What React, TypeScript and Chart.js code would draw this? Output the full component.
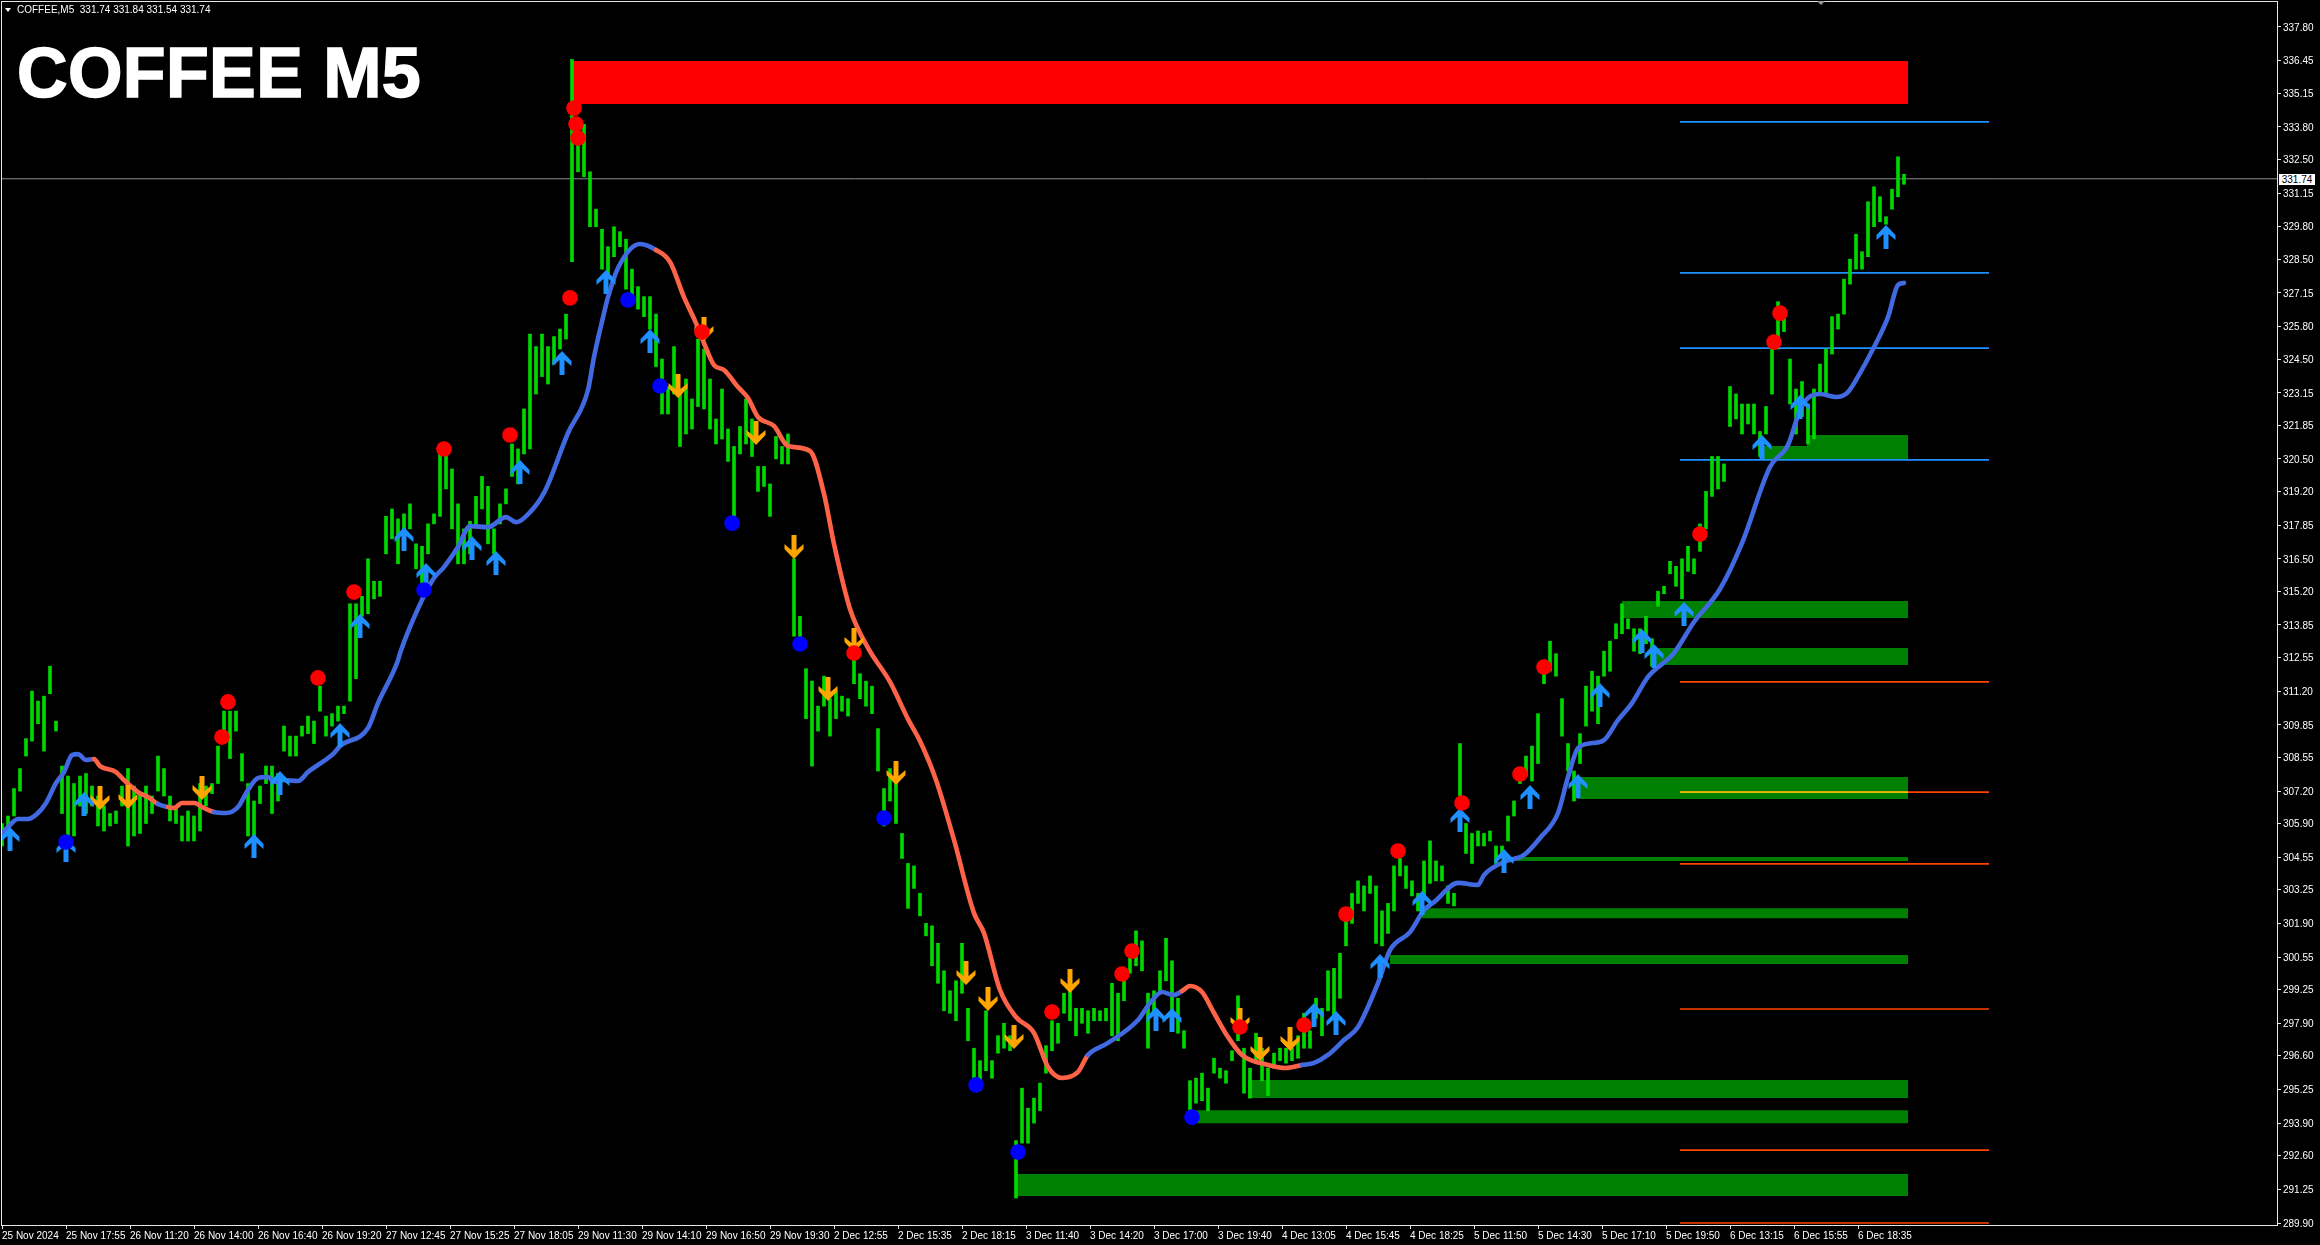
import React, { useEffect, useRef } from "react";
import { Chart, registerables } from "chart.js";

Chart.register(...registerables);

const priceTicks = [337.8, 336.45, 335.15, 333.8, 332.5, 331.15, 329.8, 328.5, 327.15, 325.8, 324.5, 323.15, 321.85, 320.5, 319.2, 317.85, 316.5, 315.2, 313.85, 312.55, 311.2, 309.85, 308.55, 307.2, 305.9, 304.55, 303.25, 301.9, 300.55, 299.25, 297.9, 296.6, 295.25, 293.9, 292.6, 291.25, 289.9];
const timeLabels = ["25 Nov 2024", "25 Nov 17:55", "26 Nov 11:20", "26 Nov 14:00", "26 Nov 16:40", "26 Nov 19:20", "27 Nov 12:45", "27 Nov 15:25", "27 Nov 18:05", "29 Nov 11:30", "29 Nov 14:10", "29 Nov 16:50", "29 Nov 19:30", "2 Dec 12:55", "2 Dec 15:35", "2 Dec 18:15", "3 Dec 11:40", "3 Dec 14:20", "3 Dec 17:00", "3 Dec 19:40", "4 Dec 13:05", "4 Dec 15:45", "4 Dec 18:25", "5 Dec 11:50", "5 Dec 14:30", "5 Dec 17:10", "5 Dec 19:50", "6 Dec 13:15", "6 Dec 15:55", "6 Dec 18:35"];
const labelEvery = 32;
const barEvery = 3;
const lastPrice = 331.72;
const totalBars = 1138;

const barHighs = [305.9, 306.2, 307.3, 308.1, 309.3, 311.2, 310.8, 311.0, 312.2, 310.0, 308.2, 307.8, 307.5, 307.8, 307.9, 307.4, 307.0, 306.6, 306.3, 306.4, 307.4, 308.1, 307.4, 307.1, 307.4, 307.0, 308.6, 308.1, 307.0, 306.6, 306.2, 306.4, 306.2, 307.5, 307.4, 307.5, 309.0, 310.4, 310.4, 310.4, 308.7, 307.5, 306.8, 307.4, 308.2, 308.2, 307.9, 309.8, 309.4, 309.4, 309.8, 310.2, 310.0, 311.4, 310.2, 310.3, 310.6, 310.6, 314.7,
  314.7, 315.0, 316.5, 315.6, 315.6, 318.2, 318.5, 318.1, 318.3, 318.7, 317.1, 317.0, 317.9, 318.3, 320.9, 320.7, 320.1, 318.7, 317.7, 318.0, 319.0, 319.8, 319.4, 317.7, 318.7, 319.3, 321.1, 320.9, 322.5, 325.5, 325.0, 325.5, 325.0, 325.4, 325.7, 326.3, 336.5, 333.4, 333.9, 332.0, 330.5, 329.7, 329.0, 329.8, 329.6, 329.3, 328.1, 327.4, 327.0, 327.0,
  326.3, 324.5, 323.4, 325.0, 323.3, 323.7, 322.9, 325.3, 324.9, 323.7, 322.1, 323.3, 321.7, 321.0, 321.8, 322.9, 322.1, 320.2, 320.2, 319.5, 321.4, 321.0, 321.5, 316.5, 314.2, 312.1, 311.6, 310.6, 311.8, 310.9, 311.2, 311.0, 310.9, 312.5, 311.9, 311.6, 311.4, 309.7, 307.3, 308.1, 307.6, 305.5,
  304.3, 304.2, 303.1, 301.9, 301.8, 301.1, 300.0, 299.2, 299.6, 301.1, 298.5, 296.9, 296.4, 298.4, 296.4, 297.4, 297.9, 297.4, 293.2, 295.3, 294.5, 294.9, 295.5, 297.0, 298.0, 297.9, 299.1, 299.7, 298.5, 298.5, 298.4, 298.5, 298.4, 298.5, 299.5, 299.1, 299.7, 300.5, 301.6, 301.2, 299.1, 299.2, 300.0, 301.3, 300.4, 298.9, 297.6,
  295.6, 295.7, 295.9, 295.3, 296.5, 296.1, 296.0, 296.8, 299.0, 296.9, 296.1, 297.5, 296.9, 296.1, 296.7, 296.9, 296.9, 296.9, 297.4, 298.3, 297.6, 298.9, 298.5, 300.0, 300.1, 300.7, 302.0, 303.1, 303.6, 303.4, 303.8, 303.4, 302.4, 302.7, 304.2, 304.5, 304.2, 303.6, 303.1, 304.4, 305.2, 304.4, 304.2, 303.4, 303.1,
  309.1, 305.9, 305.5, 305.6, 305.5, 305.6, 305.0, 305.0, 306.2, 306.8, 308.0, 308.6, 309.0, 310.3, 311.9, 313.2, 312.7, 310.9, 309.1, 308.0, 309.5, 311.4, 312.0, 311.8, 312.8, 313.2, 313.9, 314.7, 314.1, 313.7, 313.7, 314.2, 313.3, 315.2, 315.4, 316.4, 316.2, 316.5, 317.0, 316.5, 317.9, 319.2,
  320.6, 320.6, 320.3, 323.4, 323.1, 322.7, 322.7, 322.7, 321.6, 322.6, 324.9, 326.8, 326.3, 324.5, 323.3, 323.6, 322.7, 323.3, 324.3, 324.9, 326.2, 326.3, 327.7, 328.5, 329.5, 328.8, 330.8, 331.4, 331.0, 330.2, 331.3, 332.6, 331.9];

const barLows = [305.0, 305.6, 306.2, 307.2, 308.6, 309.2, 309.9, 308.8, 311.1, 309.6, 306.3, 305.4, 305.4, 306.6, 306.3, 306.6, 305.8, 305.6, 305.8, 305.9, 306.6, 305.0, 305.4, 305.5, 305.9, 306.3, 307.2, 307.0, 306.0, 305.9, 305.2, 305.2, 305.2, 305.6, 306.6, 307.1, 307.5, 309.5, 308.5, 309.6, 307.6, 305.4, 305.4, 306.7, 307.5, 306.3, 306.8, 308.8, 308.6, 308.6, 309.4, 309.5, 309.1, 310.4, 309.4, 309.8, 310.0, 310.3, 310.8,
  311.7, 314.2, 314.3, 314.9, 315.0, 316.7, 317.3, 316.3, 317.0, 317.7, 316.1, 315.5, 316.7, 317.9, 318.2, 319.3, 317.7, 316.3, 316.3, 316.7, 317.8, 318.5, 317.1, 316.7, 317.9, 318.7, 319.8, 319.5, 320.7, 320.9, 323.1, 323.8, 323.5, 324.3, 324.9, 325.3, 328.4, 332.0, 331.8, 329.8, 329.8, 328.1, 327.8, 328.6, 329.0, 327.3, 327.1, 326.5, 326.2, 325.7,
  324.2, 322.3, 322.3, 323.1, 321.0, 321.5, 321.7, 322.6, 322.5, 321.7, 321.1, 321.3, 320.4, 318.2, 320.7, 321.1, 320.6, 319.2, 319.4, 318.2, 320.5, 320.3, 320.3, 313.4, 313.2, 310.1, 308.2, 309.6, 310.6, 309.4, 310.1, 310.4, 310.2, 311.5, 310.9, 310.6, 310.3, 308.0, 305.8, 306.8, 305.9, 304.5,
  302.5, 303.3, 302.2, 301.4, 300.2, 299.5, 298.4, 298.3, 298.0, 299.1, 297.2, 295.6, 295.2, 296.0, 295.7, 296.7, 296.9, 296.8, 290.9, 293.1, 293.1, 293.9, 294.4, 295.9, 296.8, 297.1, 298.3, 298.0, 297.4, 297.9, 297.5, 298.0, 298.0, 298.0, 297.4, 297.2, 298.8, 299.9, 300.2, 300.0, 296.9, 298.3, 299.2, 299.6, 298.4, 297.5, 296.9,
  294.4, 294.7, 294.8, 294.4, 295.9, 295.7, 295.5, 296.4, 297.2, 295.1, 294.9, 296.4, 295.6, 295.0, 296.1, 296.4, 296.3, 296.4, 296.5, 296.9, 296.9, 298.1, 297.4, 298.4, 298.1, 298.9, 301.0, 301.9, 302.7, 302.4, 303.1, 301.1, 301.0, 301.5, 302.4, 303.8, 303.3, 303.0, 302.4, 303.0, 303.5, 303.6, 303.6, 302.7, 302.6,
  305.6, 304.7, 304.3, 305.0, 305.0, 305.2, 304.3, 304.7, 305.2, 306.2, 307.5, 307.8, 307.6, 308.3, 311.5, 312.0, 311.8, 309.4, 308.0, 306.8, 308.3, 309.8, 310.4, 309.9, 311.8, 312.0, 313.3, 313.5, 313.7, 312.8, 312.7, 313.1, 312.2, 314.6, 315.1, 315.9, 315.4, 314.9, 316.0, 315.9, 316.8, 317.7,
  319.0, 319.3, 319.6, 321.8, 322.1, 321.5, 321.9, 321.5, 320.6, 321.5, 323.1, 324.9, 325.6, 322.7, 321.5, 322.2, 321.1, 321.3, 323.1, 323.1, 324.7, 325.7, 326.3, 327.5, 328.1, 328.1, 328.6, 329.8, 330.0, 329.9, 330.5, 331.0, 331.5];

const maBars = [0, 3, 8, 13, 18, 22, 27, 31, 35, 38, 42, 46, 49, 57, 61, 68, 73, 78, 83, 86, 90, 96, 101, 106, 112, 118, 123, 128, 133, 136, 141, 148, 153, 166, 169, 183, 188, 198, 199, 210, 216, 221, 228, 234, 243, 252, 257, 261, 271, 283, 293, 296, 301, 303, 308, 319, 327, 334, 341, 347, 351, 356, 361, 368, 373, 378, 386, 393, 404, 411, 416, 424, 433, 444, 453, 459, 467, 476, 486, 491, 499, 507, 516, 523, 530, 538, 543, 553, 568, 574, 580, 586, 590, 594, 600, 606, 613, 620, 633, 642, 650, 656, 663, 671, 678, 688, 694, 704, 711, 716, 728, 738, 741, 751, 761, 769, 778, 783, 788, 795, 801, 808, 815, 823, 836, 846, 859, 870, 884, 893, 899, 903, 909, 917, 923, 929, 936, 943, 948, 951];
const maValues = [305.52, 305.76, 306.08, 306.08, 306.32, 306.72, 307.52, 307.96, 308.64, 308.68, 308.44, 308.48, 308.2, 307.96, 307.64, 307.16, 306.96, 306.68, 306.56, 306.52, 306.72, 306.72, 306.52, 306.36, 306.32, 306.56, 307.24, 307.72, 307.76, 307.56, 307.64, 307.6, 307.96, 308.72, 309.0, 309.72, 310.72, 312.44, 312.72, 314.85, 315.73, 316.17, 316.97, 317.81, 317.77, 318.17, 317.97, 318.13, 319.14, 321.54, 323.26, 324.58, 326.34, 326.98, 328.15, 329.11, 328.87, 328.39, 326.98, 325.94, 325.14, 324.26, 324.06, 323.38, 322.94, 322.18, 321.82, 321.02, 320.82, 319.1, 317.09, 314.49, 312.93, 311.57, 310.08, 309.2, 307.64, 305.24, 302.31, 301.51, 299.23, 298.15, 297.51, 296.15, 295.71, 295.95, 296.63, 297.11, 298.03, 298.71, 299.15, 299.03, 299.19, 299.39, 299.15, 298.31, 297.35, 296.63, 296.23, 296.11, 296.23, 296.31, 296.63, 297.23, 297.75, 299.51, 300.83, 301.55, 302.43, 302.75, 303.52, 303.44, 303.84, 304.36, 304.64, 305.32, 306.32, 307.76, 308.92, 309.12, 309.24, 310.04, 310.72, 311.77, 312.73, 313.97, 315.29, 317.13, 320.18, 321.06, 322.46, 322.94, 323.1, 322.98, 323.18, 323.94, 324.98, 326.18, 327.47, 327.55];
const maTrendFlips = [46, 78, 83, 106, 327, 543, 590, 650];

const upArrowBars = [4, 32, 41, 126, 139, 169, 179, 201, 212, 235, 247, 259, 280, 302, 324, 577, 585, 656, 667, 689, 710, 729, 751, 764, 788, 799, 820, 826, 841, 880, 899, 942];
const upArrowPrices = [305.28, 304.84, 306.68, 305.0, 307.52, 309.44, 313.81, 317.29, 315.85, 316.93, 316.33, 319.98, 324.34, 327.59, 325.22, 298.07, 298.03, 298.23, 297.91, 300.19, 302.72, 306.04, 304.4, 306.96, 307.4, 311.04, 313.21, 312.61, 314.29, 320.98, 322.58, 329.39];
const downArrowBars = [49, 63, 100, 338, 351, 377, 396, 413, 426, 447, 482, 493, 506, 534, 619, 629, 644];
const downArrowPrices = [306.92, 306.96, 307.32, 323.42, 325.7, 321.54, 316.97, 311.29, 313.25, 307.92, 299.91, 298.87, 297.35, 299.59, 298.03, 296.87, 297.27];
const redDotBars = [110, 113, 158, 176, 221, 254, 284, 286, 287, 288, 350, 426, 525, 560, 565, 619, 651, 672, 698, 730, 759, 771, 849, 886, 889];
const redDotPrices = [309.36, 310.77, 311.73, 315.17, 320.9, 321.46, 326.95, 334.55, 333.91, 333.35, 325.58, 312.73, 298.35, 299.87, 300.79, 297.75, 297.83, 302.27, 304.8, 306.72, 307.88, 312.17, 317.49, 325.18, 326.34];
const blueDotBars = [32, 211, 313, 329, 365, 399, 441, 487, 508, 595];
const blueDotPrices = [305.16, 315.25, 326.87, 323.42, 317.93, 313.09, 306.12, 295.43, 292.74, 294.14];

// zones: first bar, last bar, top price, bottom price
const demandZones = [
  [507.5, 953, 291.86, 290.98],
  [595.5, 953, 294.42, 293.9],
  [623, 953, 295.63, 294.91],
  [694, 953, 300.63, 300.27],
  [710, 953, 302.51, 302.11],
  [755.5, 953, 304.56, 304.4],
  [787.5, 953, 307.76, 306.88],
  [826.5, 953, 312.93, 312.25],
  [810, 953, 314.81, 314.13],
  [880.5, 953, 321.02, 320.5],
  [902.5, 953, 321.46, 320.5],
];
const supplyZones = [[285.5, 953, 336.44, 334.71]];

const levelStart = 839;
const levelEnd = 993.5;
const resistanceLevels = [334.0, 327.95, 324.94, 320.46];
const supportLevels = [311.57, 307.16, 304.28, 298.47, 292.82, 289.9];
const overlapLevel = 307.16;
const overlapEnd = 953;

function makeArrow(color: string, down: boolean) {
  const c = document.createElement("canvas");
  c.width = 20;
  c.height = 24;
  const g = c.getContext("2d")!;
  if (down) {
    g.translate(0, 24);
    g.scale(1, -1);
  }
  g.fillStyle = color;
  g.beginPath();
  const pts = [[10, 0], [19.5, 10], [19.5, 15], [12.5, 9], [12.5, 24], [7.5, 24], [7.5, 9], [0.5, 15], [0.5, 10]];
  pts.forEach(([x, y], i) => (i ? g.lineTo(x, y) : g.moveTo(x, y)));
  g.closePath();
  g.fill();
  return c;
}

const zip = (xs: number[], ys: number[]) => xs.map((x, i) => ({ x, y: ys[i] }));

function zoneDataset(z: number[], color: string) {
  const [a, b, top, bot] = z;
  return {
    type: "line" as const,
    data: [{ x: a, y: top }, { x: b, y: top }, { x: b, y: bot }, { x: a, y: bot }],
    fill: "shape",
    backgroundColor: color,
    borderWidth: 0,
    pointRadius: 0,
    tension: 0,
    order: 10,
  };
}

function levelDataset(y: number, color: string, a = levelStart, b = levelEnd, order = 8, width = 1.7) {
  return {
    type: "line" as const,
    data: [{ x: a, y }, { x: b, y }],
    borderColor: color,
    borderWidth: width,
    pointRadius: 0,
    tension: 0,
    order,
  };
}

function markerDataset(data: any[], style: any, radius: number, color: string, order: number) {
  return {
    type: "line" as const,
    data,
    showLine: false,
    pointStyle: style,
    pointRadius: radius,
    pointBackgroundColor: color,
    pointBorderWidth: 0,
    order,
  };
}

export default function App() {
  const ref = useRef<HTMLCanvasElement>(null);

  useEffect(() => {
    document.body.style.margin = "0";
    document.body.style.background = "#000";
    const font = { family: "'Liberation Sans', Arial, sans-serif", size: 10 };
    const frame = {
      id: "frame",
      afterDraw(chart: any) {
        const { left, top, right, bottom } = chart.chartArea;
        const g = chart.ctx;
        g.save();
        g.strokeStyle = "#e6e6e6";
        g.lineWidth = 1;
        g.strokeRect(left - 0.5, top - 0.5, right - left, bottom - top);
        g.restore();
      },
    };
    const chart = new Chart(ref.current!, {
      type: "line",
      plugins: [frame],
      data: {
        datasets: [
          ...supplyZones.map((z) => zoneDataset(z, "#ff0000")),
          ...demandZones.map((z) => zoneDataset(z, "#008000")),
          levelDataset(lastPrice, "#8c9094", 0, totalBars, 9, 1),
          {
            type: "bar" as const,
            data: barHighs.map((h, i) => ({ x: i * barEvery, y: [barLows[i], h] })),
            backgroundColor: "#00d800",
            barThickness: 3,
            grouped: false,
            borderWidth: 0,
            order: 7,
          },
          ...resistanceLevels.map((y) => levelDataset(y, "#1e90ff")),
          ...supportLevels.map((y) => levelDataset(y, "#ff4500")),
          levelDataset(overlapLevel, "#e8c000", levelStart, overlapEnd, 6.5),
          {
            type: "line" as const,
            data: zip(maBars, maValues),
            borderWidth: 4.6,
            borderColor: "#4169e1",
            borderCapStyle: "round",
            borderJoinStyle: "round",
            pointRadius: 0,
            cubicInterpolationMode: "monotone",
            order: 5,
            segment: {
              borderColor: (c: any) =>
                maTrendFlips.filter((f) => f <= c.p0.parsed.x).length % 2 ? "#ff6347" : "#4169e1",
            },
          },
          markerDataset(zip(upArrowBars, upArrowPrices), makeArrow("#1e90ff", false), 10, "#1e90ff", 4),
          markerDataset(zip(downArrowBars, downArrowPrices), makeArrow("#ffa500", true), 10, "#ffa500", 4),
          markerDataset(zip(redDotBars, redDotPrices), "circle", 7.8, "#ff0000", 3),
          markerDataset(zip(blueDotBars, blueDotPrices), "circle", 7.8, "#0000ff", 3),
        ] as any,
      },
      options: {
        responsive: false,
        animation: false,
        devicePixelRatio: 1,
        events: [],
        layout: { autoPadding: false, padding: { top: 2, left: 2, right: 0, bottom: 0 } },
        plugins: { legend: { display: false }, tooltip: { enabled: false }, title: { display: false } },
        scales: {
          x: {
            type: "linear",
            min: 0,
            max: totalBars,
            offset: false,
            border: { display: false },
            grid: { offset: false, drawOnChartArea: false, drawTicks: true, tickLength: 3, color: "#e6e6e6" },
            afterBuildTicks: (s: any) => {
              s.ticks = timeLabels.map((_, i) => ({ value: i * labelEvery }));
            },
            afterFit: (s: any) => {
              s.height = 19;
              s.paddingLeft = s.paddingRight = 0;
            },
            ticks: {
              autoSkip: false,
              maxRotation: 0,
              minRotation: 0,
              align: "start",
              padding: 1,
              color: "#ffffff",
              font,
              callback: (v: any) => timeLabels[Math.round(v / labelEvery)] ?? "",
            },
          },
          y: {
            type: "linear",
            position: "right",
            min: 289.78,
            max: 338.8,
            beginAtZero: false,
            border: { display: false },
            grid: { drawOnChartArea: false, drawTicks: true, tickLength: 3, color: "#e6e6e6" },
            afterBuildTicks: (s: any) => {
              s.ticks = priceTicks.map((value) => ({ value }));
            },
            afterFit: (s: any) => {
              s.width = 42;
              s.paddingTop = s.paddingBottom = 0;
            },
            ticks: {
              autoSkip: false,
              padding: 2,
              labelOffset: 1,
              color: "#ffffff",
              font,
              callback: (v: any) => Number(v).toFixed(2),
            },
          },
        },
      } as any,
    });
    return () => chart.destroy();
  }, []);

  const tri = (left: number, top: number, w: number, h: number, color: string): React.CSSProperties => ({
    position: "absolute",
    left,
    top,
    width: 0,
    height: 0,
    borderLeft: `${w}px solid transparent`,
    borderRight: `${w}px solid transparent`,
    borderTop: `${h}px solid ${color}`,
  });

  return (
    <div style={{ position: "relative", width: 2320, height: 1245, background: "#000", overflow: "hidden" }}>
      <canvas ref={ref} width={2320} height={1245} style={{ display: "block", width: 2320, height: 1245 }} />
      <div style={tri(5, 8, 3.5, 4, "#ffffff")} />
      <div style={tri(1817, 1, 4, 4, "#9a9a9a")} />
      <div
        style={{
          position: "absolute",
          left: 17,
          top: 4,
          font: "10px 'Liberation Sans', Arial, sans-serif",
          color: "#fff",
          whiteSpace: "pre",
        }}
      >
        {"COFFEE,M5  331.74 331.84 331.54 331.74"}
      </div>
      <div
        style={{
          position: "absolute",
          left: 17,
          top: 33,
          font: "bold 70px 'Liberation Sans', Arial, sans-serif",
          color: "#fff",
          whiteSpace: "pre",
          WebkitTextStroke: "1.5px #fff",
          letterSpacing: "0.4px",
        }}
      >
        COFFEE M5
      </div>
      <div
        style={{
          position: "absolute",
          left: 2279,
          top: 174,
          width: 36,
          height: 11,
          background: "#fff",
          color: "#000",
          font: "10px/11px 'Liberation Sans', Arial, sans-serif",
          textAlign: "center",
        }}
      >
        331.74
      </div>
    </div>
  );
}
